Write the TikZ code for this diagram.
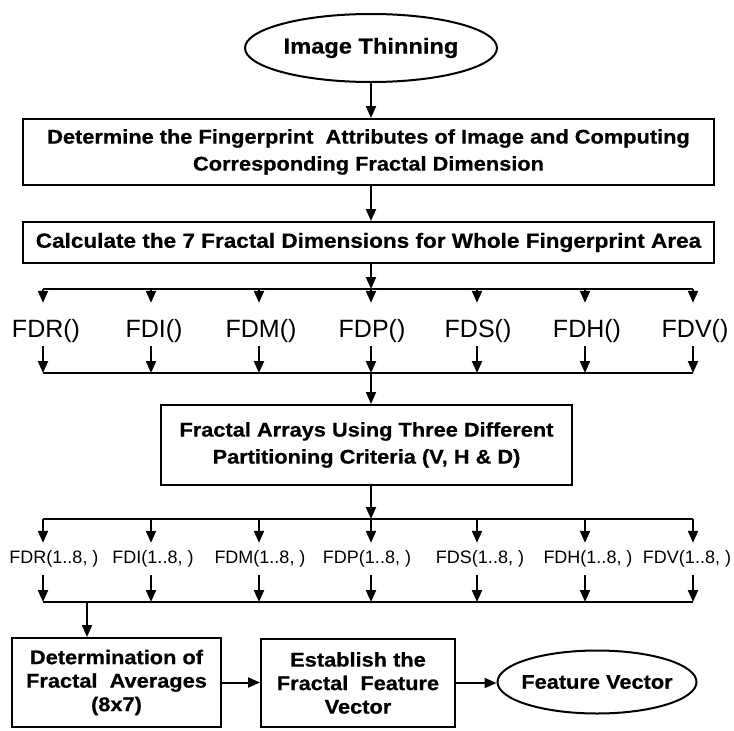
\documentclass[tikz,border=0pt]{standalone}
\usepackage{fontspec}
\setmainfont{Liberation Sans}
\newfontfamily\boxfont[FakeStretch=1.1,FakeBold=0.6]{Liberation Sans Bold}
\usetikzlibrary{arrows.meta,shapes.geometric}
\begin{document}
\begin{tikzpicture}[x=1pt,y=-1pt,
  line/.style={line width=2pt},
  arr/.style={line, -{Triangle[length=12pt,width=10pt]}},
  box/.style={draw, line width=2pt, rectangle, inner sep=0pt, align=center,
    font=\boxfont\fontsize{19.8}{27}\selectfont},
  smallbox/.style={box, font=\boxfont\fontsize{19.8}{23.5}\selectfont},
  oval/.style={draw, ellipse, line width=2pt, inner sep=0pt, align=center,
    font=\boxfont\fontsize{19.8}{24}\selectfont},
  labup/.style={inner sep=0pt, anchor=base, text height=34pt, text depth=9pt,
    font=\fontsize{25}{30}\selectfont},
  labdn/.style={inner sep=0pt, anchor=base, text height=20pt, text depth=12pt,
    font=\fontsize{18}{22}\selectfont}]
\useasboundingbox (0,0) rectangle (734,731);
\fill[white] (0,0) rectangle (734,731);

% main chain
\node[oval, minimum width=252pt, minimum height=68pt,
  font=\boxfont\fontsize{21.5}{26}\selectfont] (thin) at (371,48) {Image Thinning};
\node[box, minimum width=691pt, minimum height=66pt] (box1) at (368.5,152)
  {Determine the Fingerprint\ \ Attributes of Image and Computing\\Corresponding Fractal Dimension};
\node[box, minimum width=691pt, minimum height=41pt,
  font=\boxfont\fontsize{20.5}{24}\selectfont] (box2) at (368.5,242.5)
  {Calculate the 7 Fractal Dimensions for Whole Fingerprint Area};
\node[box, minimum width=411pt, minimum height=80pt] (box3) at (366.5,445)
  {Fractal Arrays Using Three Different\\Partitioning Criteria (V, H \& D)};
\node[smallbox, minimum width=209pt, minimum height=89pt] (box4) at (116.5,682.5)
  {Determination of\\Fractal\ \ Averages\\(8x7)};
\node[smallbox, minimum width=194pt, minimum height=88pt] (box5) at (358,683)
  {Establish the\\Fractal\ \ Feature\\Vector};
\node[oval, minimum width=199pt, minimum height=63pt, inner xsep=-6pt] (fv) at (597,682)
  {Feature Vector};

% bus coordinates for the seven branches
\foreach \i/\x in {1/43,2/151,3/259,4/371,5/477,6/585,7/693}{
  \coordinate (a\i) at (\x,289);
  \coordinate (b\i) at (\x,373);
  \coordinate (c\i) at (\x,519);
  \coordinate (d\i) at (\x,602);
}
\coordinate (dx) at (87,602);

% first set of labels
\foreach \i/\x/\t in {1/46/FDR(),2/154/FDI(),3/261/FDM(),4/372/FDP(),5/478/FDS(),6/587/FDH(),7/695/FDV()}{
  \node[labup] (u\i) at (\x,337) {\t};
}
% second set of labels
\foreach \i/\x/\t in {1/54/FDR,2/153/FDI,3/260/FDM,4/367/FDP,5/480/FDS,6/588/FDH,7/687/FDV}{
  \node[labdn] (l\i) at (\x,563) {\t(1..8, )};
}

% connectors
\draw[arr] (thin.south) -- (thin.south |- box1.north);
\draw[arr] (thin.south |- box1.south) -- (thin.south |- box2.north);
\draw[arr] (thin.south |- box2.south) -- (a4);
\draw[line] (a1) -- (a7);
\foreach \i in {1,...,7}{
  \draw[arr] (a\i) -- (a\i |- u\i.north);
  \draw[arr] (b\i |- u\i.south) -- (b\i);
}
\draw[line] (b1) -- (b7);
\draw[arr] (b4) -- (b4 |- box3.north);
\draw[arr] (b4 |- box3.south) -- (c4);
\draw[line] (c1) -- (c7);
\foreach \i in {1,...,7}{
  \draw[arr] (c\i) -- (c\i |- l\i.north);
  \draw[arr] (d\i |- l\i.south) -- (d\i);
}
\draw[line] (d1) -- (d7);
\draw[arr] (dx) -- (dx |- box4.north);
\draw[arr] (box4.east) -- (box4.east -| box5.west);
\draw[arr] (box5.east) -- (box5.east -| fv.west);
\end{tikzpicture}
\end{document}
